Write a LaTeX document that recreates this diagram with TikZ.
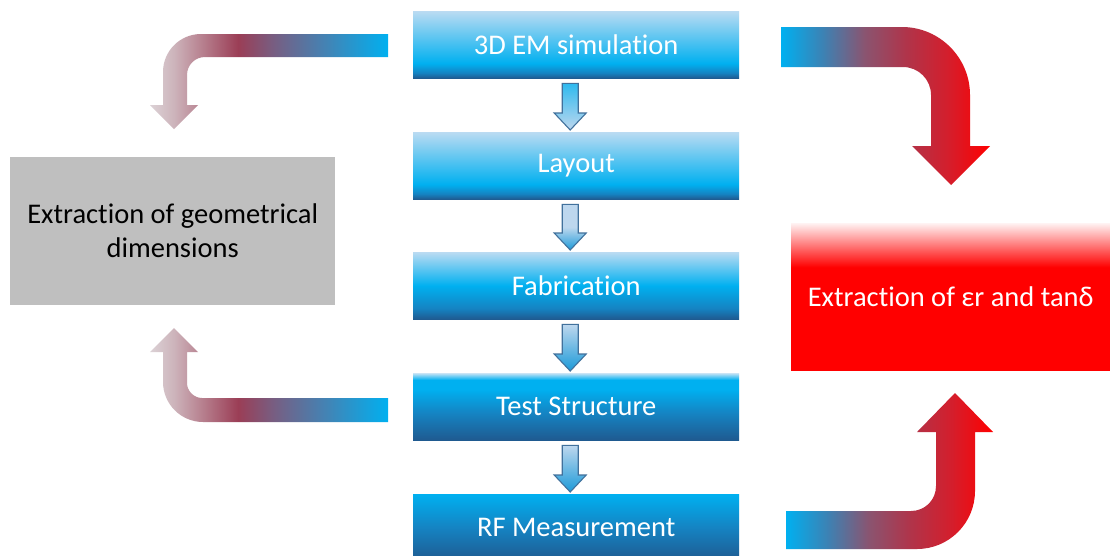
\documentclass[tikz,border=0pt]{standalone}
\usepackage{fontspec}
\setmainfont{Carlito}[Ligatures={CommonOff,ContextualOff}]
\usetikzlibrary{calc}
\definecolor{dk}{HTML}{1F5A90}
\definecolor{md}{HTML}{1583C2}
\definecolor{cy}{HTML}{00B0F0}
\definecolor{lt}{HTML}{BADBF2}
\definecolor{ltt}{HTML}{C4E2F5}
\definecolor{rd}{HTML}{FF0000}
\definecolor{rdlt}{HTML}{FFF2F2}
\definecolor{gr}{HTML}{BFBFBF}
\definecolor{sao}{HTML}{41719C}
\definecolor{sal}{HTML}{BDD7EE}
\definecolor{sab}{HTML}{1C9AD8}
\definecolor{la}{HTML}{DCD2D6}
\definecolor{lb}{HTML}{CDB4BB}
\definecolor{lc}{HTML}{9B3E56}
\definecolor{ld}{HTML}{775E82}
\definecolor{le}{HTML}{4880B0}
\definecolor{ra}{HTML}{3C82B4}
\definecolor{rb}{HTML}{8A5470}
\definecolor{rc}{HTML}{B0344A}
\definecolor{rdd}{HTML}{D41E2C}
% vertical shadings: 0bp = bottom, box spans 25bp..75bp
\pgfdeclareverticalshading{boxA}{100bp}{color(0bp)=(dk); color(25bp)=(dk); color(29bp)=(md); color(36bp)=(cy); color(75bp)=(lt); color(100bp)=(lt)}
\pgfdeclareverticalshading{boxB}{100bp}{color(0bp)=(dk); color(25bp)=(dk); color(33bp)=(md); color(50bp)=(cy); color(75bp)=(lt); color(100bp)=(lt)}
\pgfdeclareverticalshading{boxC}{100bp}{color(0bp)=(dk); color(25bp)=(dk); color(45bp)=(md); color(63bp)=(cy); color(70bp)=(cy); color(75bp)=(ltt); color(100bp)=(ltt)}
\pgfdeclareverticalshading{boxD}{100bp}{color(0bp)=(dk); color(25bp)=(dk); color(50bp)=(md); color(75bp)=(cy); color(100bp)=(cy)}
\pgfdeclareverticalshading{redbox}{100bp}{color(0bp)=(rd); color(25bp)=(rd); color(60bp)=(rd); color(75bp)=(rdlt); color(100bp)=(rdlt)}
% horizontal shadings: 0bp = left
\pgfdeclarehorizontalshading{leftgrad}{100bp}{color(0bp)=(la); color(25bp)=(la); color(30bp)=(lb); color(43.5bp)=(lc); color(51bp)=(ld); color(61bp)=(le); color(75bp)=(cy); color(100bp)=(cy)}
\pgfdeclarehorizontalshading{rightgrad}{100bp}{color(0bp)=(cy); color(25bp)=(cy); color(35bp)=(ra); color(45bp)=(rb); color(55bp)=(rc); color(65bp)=(rdd); color(75bp)=(rd); color(100bp)=(rd)}
\tikzset{
  stepbox/.style={shade, anchor=north west, minimum width=326pt, minimum height=67pt,
    inner sep=0pt, text=white, font=\fontsize{28.5}{34}\selectfont},
  graybox/.style={fill=gr, anchor=north west, minimum width=325pt, minimum height=148pt,
    inner sep=0pt, text=black, align=center, font=\fontsize{28.5}{34}\selectfont},
  rednode/.style={shade, shading=redbox, anchor=north west, minimum width=319pt, minimum height=147pt,
    inner sep=0pt, text=white, font=\fontsize{28.5}{34}\selectfont},
  smallarr/.style={draw=sao, line width=1.1pt, top color=sal, bottom color=sab},
  bigL/.style={shading=leftgrad},
  bigR/.style={shading=rightgrad}
}
\newcommand{\smallblockarrow}[3]{%
  \shade[smallarr,#3] ($(#1.south)+(-14,5)$) -- ($(#1.south)+(2,5)$) -- ($(#2.north)+(2,-19)$)
   -- ($(#2.north)+(10,-19)$) -- ($(#2.north)+(-6,-2)$) -- ($(#2.north)+(-22,-19)$)
   -- ($(#2.north)+(-14,-19)$) -- cycle;}
\begin{document}
\begin{tikzpicture}[x=1pt,y=-1pt]
\clip (0,0) rectangle (1110,555);
\fill[white] (0,0) rectangle (1110,555);
% central column
\node[stepbox, shading=boxA] (b1) at (413,11) {3D EM simulation};
\node[stepbox, shading=boxA] (b2) at (413,132) {Layout};
\node[stepbox, shading=boxB] (b3) at (413,252) {Fabrication};
\node[stepbox, shading=boxC] (b4) at (413,373) {Test Structure};
\node[stepbox, shading=boxD] (b5) at (413,494) {RF Measurement};
% side boxes
\node[graybox] (geo) at (10,157) {Extraction of geometrical\\dimensions};
\node[rednode] (eps) at (791,223) {Extraction of εr and tanδ};
% small arrows
\smallblockarrow{b1}{b2}{top color=cy!75!sal, bottom color=sal}
\smallblockarrow{b2}{b3}{top color=sal, bottom color=sab, middle color=sal}
\smallblockarrow{b3}{b4}{}
\smallblockarrow{b4}{b5}{}
% big curved arrows, left
\shade[bigL] (388,34) -- (201,34) .. controls (180,34) and (163,51) .. (163,72)
  -- (163,105) -- (150,105) -- (174,129) -- (198,105) -- (187,105) -- (187,75)
  .. controls (187,65) and (195,57) .. (205,57) -- (388,57) -- cycle;
\shade[bigL] (388,398) -- (202,398) .. controls (194,398) and (187,391) .. (187,383)
  -- (187,352) -- (198,352) -- (174,328) -- (150,352) -- (163,352) -- (163,382)
  .. controls (163,404) and (181,422) .. (203,422) -- (388,422) -- cycle;
% big curved arrows, right
\shade[bigR] (781,27) -- (902,27) .. controls (939.5,27) and (970,57.5) .. (970,95)
  -- (970,146) -- (990,146) -- (951,185) -- (912,146) -- (931,146) -- (931,95)
  .. controls (931,79.5) and (918.5,67) .. (903,67) -- (781,67) -- cycle;
\shade[bigR] (786,511) -- (911,511) .. controls (925,511) and (936,500) .. (936,486)
  -- (936,432) -- (917,432) -- (955,393) -- (993,432) -- (975,432) -- (975,491)
  .. controls (975,523) and (949,549) .. (917,549) -- (786,549) -- cycle;
\end{tikzpicture}
\end{document}
